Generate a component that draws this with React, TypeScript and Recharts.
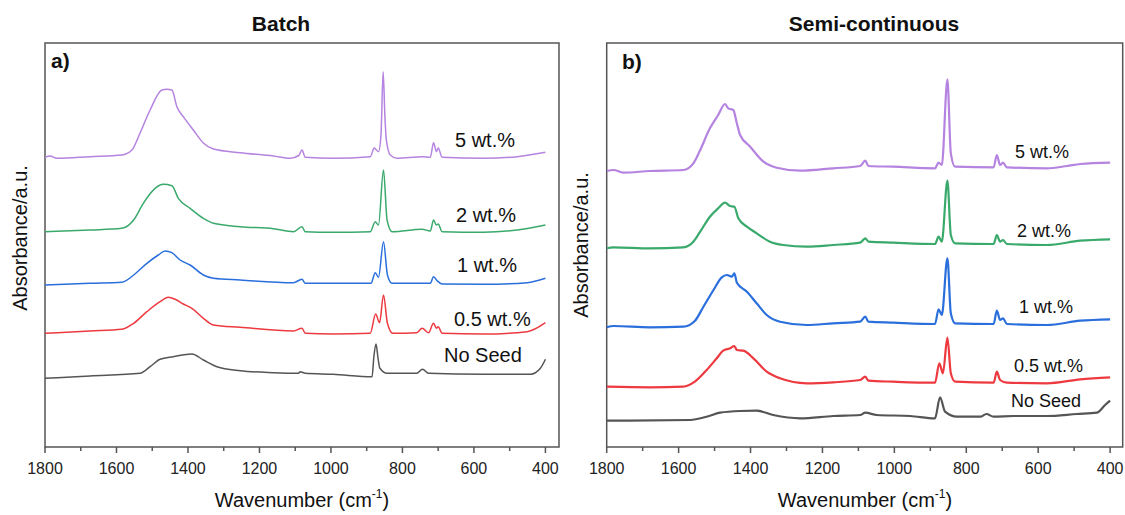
import React from "react"
import { LineChart, Line, XAxis, YAxis, ReferenceArea } from "recharts"

// [wavenumber, absorbance (a.u., stacked offsets as plotted)]
type Pt = [number, number]

const TICKS = [1800, 1700, 1600, 1500, 1400, 1300, 1200, 1100, 1000, 900, 800, 700, 600, 500, 400]

// ---- Batch ----
const batchNoSeed: Pt[] = [
  [1800, 68.7], [1674, 71], [1534, 73.7], [1506, 80.3], [1478, 87.7], [1441, 90.3], [1389, 93],
  [1357, 87], [1319, 80.3], [1254, 76.3], [1161, 74.3], [1091, 73.7], [1086, 75.3], [1072, 73.7],
  [994, 72.7], [885, 70.3], [880, 90], [874, 103], [868, 88], [863, 78.7], [843, 73.7], [760, 73.7],
  [744, 77.7], [727, 73.7], [573, 72.7], [442, 72.7], [414, 78.7], [400, 87.7],
]
const batch05: Pt[] = [
  [1800, 113.7], [1674, 116], [1585, 117.7], [1552, 123.7], [1515, 135.3], [1478, 145.3], [1455, 149.7],
  [1436, 147.7], [1413, 143], [1389, 138.7], [1357, 128.7], [1329, 122], [1254, 119.7], [1105, 116],
  [1081, 118.7], [1072, 113.7], [994, 113], [890, 113.7], [875, 133], [864, 124.3], [853, 152],
  [842, 123.7], [827, 113.7], [760, 114.3], [745, 118.7], [727, 114.3], [713, 123.7], [705, 118.7],
  [700, 120.3], [689, 113.7], [573, 113], [451, 115.3], [400, 124.3],
]
const batch1: Pt[] = [
  [1800, 162], [1674, 163.7], [1585, 164.7], [1552, 172], [1515, 183.7], [1483, 192], [1464, 196],
  [1445, 194.3], [1422, 187], [1394, 182], [1357, 172], [1329, 168.7], [1254, 167], [1105, 164.3],
  [1081, 167.7], [1072, 163.7], [994, 163.7], [888, 163.7], [876, 174.3], [867, 169.7], [853, 205.3],
  [842, 172], [829, 163.7], [722, 163.7], [713, 170.3], [703, 166.3], [689, 163], [573, 162.7],
  [451, 164.3], [400, 168.7],
]
const batch2: Pt[] = [
  [1800, 215.3], [1674, 217], [1585, 218.7], [1552, 227], [1525, 243.7], [1492, 258.7], [1469, 262.7],
  [1445, 261.3], [1427, 248.7], [1394, 238.7], [1357, 228.7], [1329, 223.7], [1254, 220.3], [1161, 218.3],
  [1105, 215.3], [1081, 220.3], [1072, 215.3], [994, 214.7], [890, 215.3], [876, 225.3], [867, 222],
  [853, 277], [843, 227], [829, 215.3], [745, 217.7], [722, 216], [713, 227], [705, 222], [700, 223],
  [689, 215.3], [573, 214.7], [479, 217], [400, 222],
]
const batch5: Pt[] = [
  [1800, 289.7], [1786, 291], [1767, 288.7], [1674, 290.3], [1585, 292], [1557, 297], [1534, 314],
  [1506, 337], [1473, 357], [1459, 357.7], [1445, 357], [1431, 340.3], [1413, 330.3], [1385, 317],
  [1357, 304], [1329, 298], [1254, 294.3], [1161, 291], [1114, 288.7], [1090, 291.5], [1081, 297],
  [1072, 289.7], [994, 288.7], [890, 290.3], [879, 299], [867, 295.3], [860, 312], [854, 375.3],
  [849, 330], [845, 307], [834, 292], [815, 288.7], [745, 290.3], [722, 289.7], [713, 304.3],
  [705, 295.3], [700, 299], [689, 289.7], [573, 288.7], [479, 290.3], [400, 294.7],
]

// ---- Semi-continuous ----
const semiNoSeed: Pt[] = [
  [1800, 26.3], [1568, 27], [1522, 30.3], [1485, 34.3], [1429, 36], [1383, 36.3], [1337, 32],
  [1262, 28.7], [1170, 31], [1095, 32], [1081, 34.3], [1049, 32], [956, 31], [887, 28.7], [873, 49.7],
  [859, 35.3], [826, 30.3], [761, 30.3], [744, 33], [724, 30.3], [669, 31], [576, 31], [492, 33],
  [437, 34.3], [414, 42], [400, 46.3],
]
const semi05: Pt[] = [
  [1800, 60.3], [1680, 59.7], [1587, 60.3], [1555, 65.3], [1522, 77], [1494, 88.7], [1476, 96.3],
  [1457, 98.7], [1445, 101], [1438, 97], [1420, 96.3], [1392, 88.7], [1355, 75.3], [1318, 68.7],
  [1244, 63.7], [1170, 64.7], [1095, 67], [1081, 70.3], [1072, 66.3], [1003, 65.3], [887, 64.3],
  [875, 83.7], [865, 73.7], [852.5, 109.3], [843, 73.7], [831, 65.3], [724, 64.3], [715, 75.3],
  [706, 67], [687, 64.3], [576, 63.7], [483, 67.7], [400, 69.7],
]
const semi1: Pt[] = [
  [1800, 119.7], [1781, 121], [1680, 119.7], [1587, 120.3], [1555, 126], [1531, 140.3], [1503, 157],
  [1480, 169.7], [1466, 172], [1452, 170.3], [1445, 173.7], [1438, 164.3], [1410, 155.3], [1383, 143.7],
  [1355, 132], [1318, 125.3], [1244, 122], [1170, 123.7], [1095, 125.3], [1081, 130.3], [1072, 125.3],
  [1003, 124.3], [887, 123], [877, 137.7], [868, 132], [852.5, 188.7], [843, 133.7], [831, 123.7],
  [724, 123], [715, 136.3], [706, 127], [698, 128.7], [687, 123], [576, 122], [483, 126.3], [400, 127.7],
]
const semi2: Pt[] = [
  [1800, 198.7], [1781, 199.7], [1680, 198.7], [1587, 199.7], [1559, 205.3], [1540, 215.3], [1513, 230.3],
  [1490, 238.7], [1471, 244.3], [1457, 241], [1445, 240.3], [1434, 228.7], [1410, 220.3], [1383, 213.7],
  [1346, 205.3], [1309, 202], [1244, 200.3], [1170, 202], [1095, 204.3], [1081, 208.7], [1072, 205.3],
  [1003, 204.3], [887, 203], [877, 210.3], [868, 205.3], [852.5, 266.3], [843, 212], [831, 203.7],
  [724, 203], [715, 212], [706, 205.3], [698, 207], [687, 203], [576, 202], [483, 206.3], [400, 207.7],
]
const semi5: Pt[] = [
  [1800, 276], [1781, 277], [1754, 274.3], [1680, 276], [1587, 277], [1559, 283.7], [1540, 297],
  [1513, 318.7], [1490, 332], [1471, 343], [1462, 338.7], [1448, 337], [1438, 323.7], [1429, 312],
  [1401, 300.3], [1364, 285.3], [1327, 279.3], [1262, 276.3], [1170, 278.7], [1095, 281], [1081, 286.3],
  [1072, 281], [1003, 280.3], [887, 278.7], [877, 284.3], [868, 282], [852.5, 367.7], [843, 293.7],
  [831, 280.3], [724, 279.7], [715, 292], [706, 282], [698, 284.3], [687, 279.7], [576, 278.7],
  [520, 281], [483, 283], [400, 284.3],
]

const seriesLabels = ["No Seed", "0.5 wt.%", "1 wt.%", "2 wt.%", "5 wt.%"]
const seriesColors = ["#555555", "#ec3a40", "#2a6fdc", "#3aa96c", "#b583e0"]
const batchSeries = [batchNoSeed, batch05, batch1, batch2, batch5]
const semiSeries = [semiNoSeed, semi05, semi1, semi2, semi5]

const FONT = "'Liberation Sans', Arial, Helvetica, sans-serif"
const FRAME = "#555555"

const toRows = (pts: Pt[]) => pts.map(([wn, a]) => ({ wn, a }))

const AxisTick = (props: any) => {
  const { x, y, payload } = props
  const major = payload.value % 200 === 0
  return (
    <g>
      <line x1={x} x2={x} y1={y} y2={y + (major ? 6 : 4)} stroke={FRAME} strokeWidth={1.5} />
      {major && (
        <text x={x} y={y + 27} textAnchor="middle" fontSize={16} fill="#222" fontFamily={FONT}>
          {payload.value}
        </text>
      )}
    </g>
  )
}

function Panel({ series, left, width, marginLeft, marginRight, xMin, lineWidth }: any) {
  return (
    <div style={{ position: "absolute", left, top: 0 }}>
      <LineChart width={width} height={515} margin={{ top: 43, right: marginRight, bottom: 0, left: marginLeft }}>
        <XAxis
          type="number"
          dataKey="wn"
          domain={[xMin, 1800]}
          reversed
          allowDataOverflow
          ticks={TICKS}
          interval={0}
          tickLine={false}
          axisLine={false}
          tickSize={0}
          tickMargin={0}
          height={68}
          tick={AxisTick}
        />
        <YAxis type="number" domain={[0, 404]} hide allowDataOverflow />
        <ReferenceArea x1={xMin} x2={1800} y1={0} y2={404} fill="none" fillOpacity={0} stroke={FRAME} strokeWidth={1.5} />
        {series.map((pts: Pt[], i: number) => (
          <Line
            key={seriesLabels[i]}
            data={toRows(pts)}
            dataKey="a"
            type="monotoneX"
            stroke={seriesColors[i]}
            strokeWidth={lineWidth}
            dot={false}
            activeDot={false}
            isAnimationActive={false}
          />
        ))}
      </LineChart>
    </div>
  )
}

export default function App() {
  const txt = { fontFamily: FONT, fill: "#111" }
  return (
    <div style={{ position: "absolute", left: 0, top: 0, width: 1125, height: 515, background: "#fff" }}>
      <Panel series={batchSeries} left={0} width={565} marginLeft={45} marginRight={6} xMin={362} lineWidth={1.5} />
      <Panel series={semiSeries} left={565} width={560} marginLeft={41.7} marginRight={2.3} xMin={365} lineWidth={2.2} />
      <svg width={1125} height={515} style={{ position: "absolute", left: 0, top: 0, pointerEvents: "none" }}>
        <text x={281} y={31} textAnchor="middle" fontSize={21} fontWeight="bold" {...txt}>Batch</text>
        <text x={874} y={31} textAnchor="middle" fontSize={21} fontWeight="bold" {...txt}>Semi-continuous</text>
        <text x={51} y={68} fontSize={21} fontWeight="bold" {...txt}>a)</text>
        <text x={622} y={69} fontSize={21} fontWeight="bold" {...txt}>b)</text>

        <text transform="translate(27,238) rotate(-90)" textAnchor="middle" fontSize={20} {...txt}>Absorbance/a.u.</text>
        <text transform="translate(588,245) rotate(-90)" textAnchor="middle" fontSize={20} {...txt}>Absorbance/a.u.</text>

        <text x={302} y={507} textAnchor="middle" fontSize={20} {...txt}>
          Wavenumber (cm<tspan fontSize={12} dy={-9}>-1</tspan><tspan dy={9}>)</tspan>
        </text>
        <text x={865} y={507} textAnchor="middle" fontSize={20} {...txt}>
          Wavenumber (cm<tspan fontSize={12} dy={-9}>-1</tspan><tspan dy={9}>)</tspan>
        </text>

        <text x={455} y={147} fontSize={20} {...txt}>5 wt.%</text>
        <text x={456} y={222} fontSize={20} {...txt}>2 wt.%</text>
        <text x={457} y={272} fontSize={20} {...txt}>1 wt.%</text>
        <text x={454} y={326} fontSize={20} {...txt}>0.5 wt.%</text>
        <text x={444} y={362} fontSize={20} {...txt}>No Seed</text>

        <text x={1015} y={158} fontSize={18} {...txt}>5 wt.%</text>
        <text x={1017} y={237} fontSize={18} {...txt}>2 wt.%</text>
        <text x={1019} y={313} fontSize={18} {...txt}>1 wt.%</text>
        <text x={1014} y={372} fontSize={18} {...txt}>0.5 wt.%</text>
        <text x={1011} y={407} fontSize={18} {...txt}>No Seed</text>
      </svg>
    </div>
  )
}
